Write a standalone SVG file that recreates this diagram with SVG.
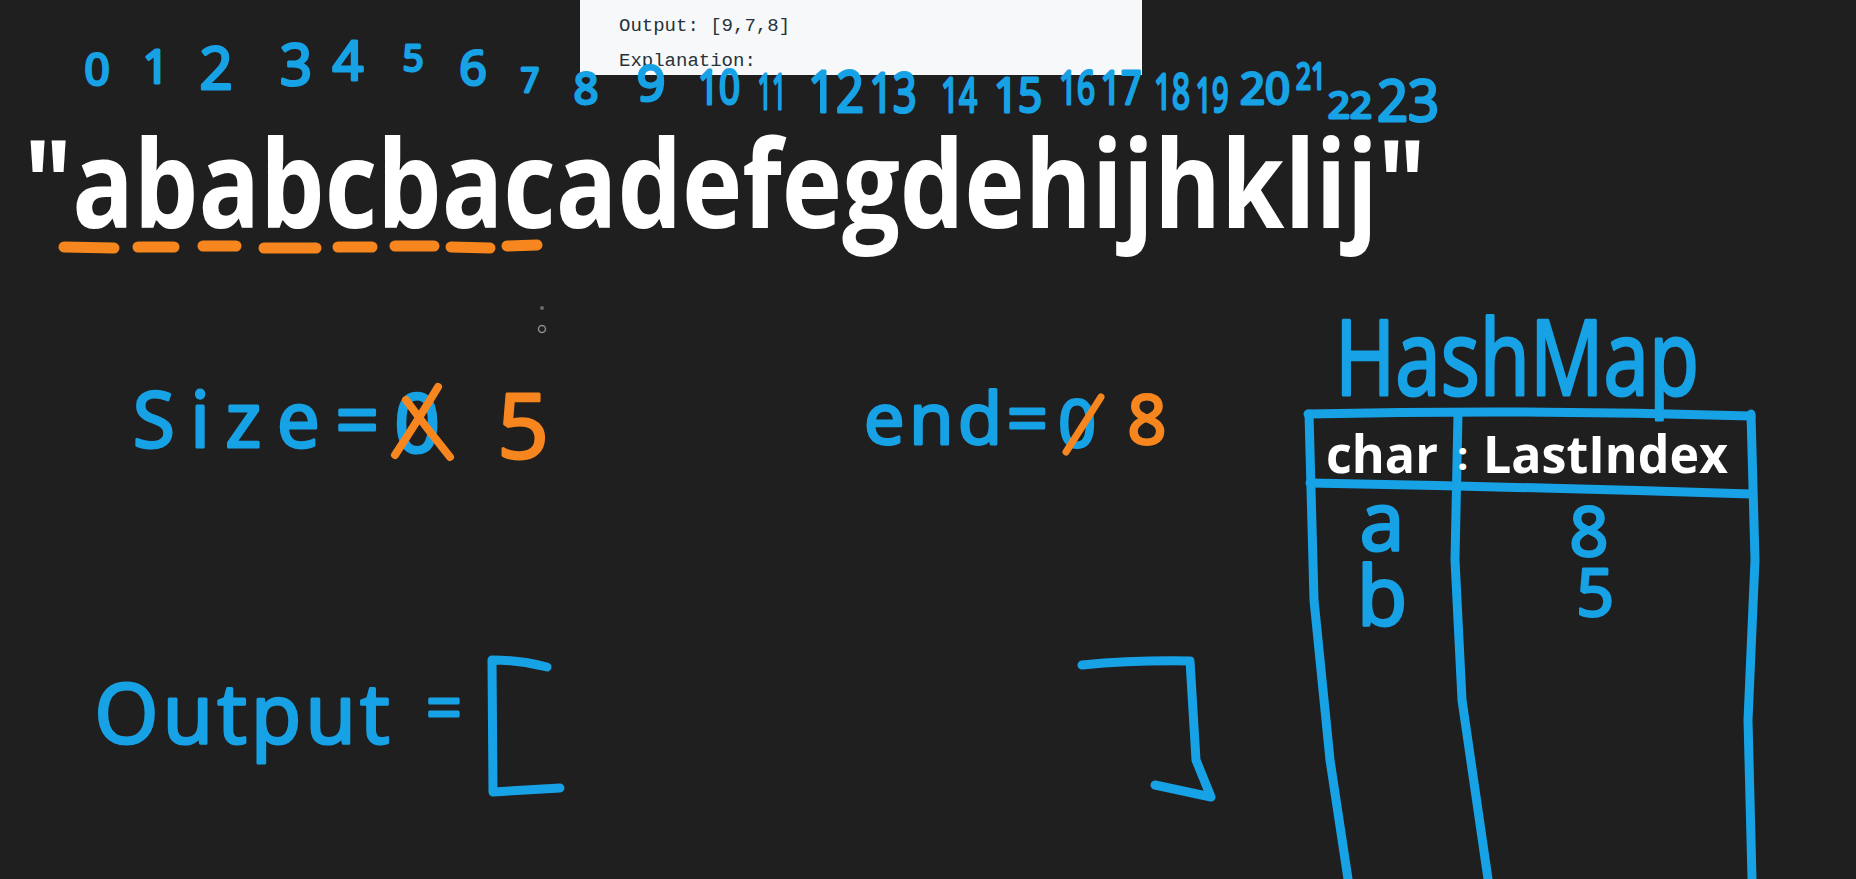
<svg xmlns="http://www.w3.org/2000/svg" width="1856" height="879" viewBox="0 0 1856 879">
<style>
.hw{font-family:"Open Sans","DejaVu Sans",sans-serif;fill:#17a2e6;stroke:#17a2e6;stroke-width:3;stroke-linejoin:round;text-anchor:middle}
.hwo{font-family:"Open Sans","DejaVu Sans",sans-serif;fill:#f7861f;stroke:#f7861f;stroke-width:3;stroke-linejoin:round;text-anchor:middle}
.bl{fill:none;stroke:#17a2e6;stroke-width:9;stroke-linecap:round;stroke-linejoin:round}
.or{fill:none;stroke:#f7861f;stroke-linecap:round;stroke-linejoin:round}
.big{font-family:"Open Sans","Noto Sans",sans-serif;font-weight:700;fill:#ffffff}
.mono{font-family:"Liberation Mono","DejaVu Sans Mono",monospace;font-size:19px;fill:#263238}
</style>
<rect width="1856" height="879" fill="#1f1f1f"/>

<g id="problem-panel">
<rect x="580" y="0" width="562" height="75" fill="#f7f8fa"/>
<text class="mono" x="619" y="31">Output: [9,7,8]</text>
<text class="mono" x="619" y="66">Explanation:</text>
</g>

<g id="indices">
<text class="hw" x="97" y="85" font-size="44">0</text>
<text class="hw" x="156" y="83" font-size="46">1</text>
<text class="hw" x="216" y="89" font-size="58">2</text>
<text class="hw" x="296" y="85" font-size="56">3</text>
<text class="hw" x="348" y="80" font-size="54">4</text>
<text class="hw" x="413" y="71" font-size="36">5</text>
<text class="hw" x="473" y="85" font-size="48">6</text>
<text class="hw" x="530" y="92" font-size="32">7</text>
<text class="hw" x="586" y="104" font-size="43">8</text>
<text class="hw" x="651" y="101" font-size="50">9</text>
<text class="hw" x="719" y="104" font-size="48" textLength="42" lengthAdjust="spacingAndGlyphs">10</text>
<text class="hw" x="772" y="109" font-size="50" textLength="29" lengthAdjust="spacingAndGlyphs">11</text>
<text class="hw" x="836" y="112" font-size="56" textLength="56" lengthAdjust="spacingAndGlyphs">12</text>
<text class="hw" x="893" y="112" font-size="54" textLength="47" lengthAdjust="spacingAndGlyphs">13</text>
<text class="hw" x="959" y="112" font-size="48" textLength="36" lengthAdjust="spacingAndGlyphs">14</text>
<text class="hw" x="1018" y="112" font-size="48" textLength="48" lengthAdjust="spacingAndGlyphs">15</text>
<text class="hw" x="1077" y="104" font-size="46" textLength="36" lengthAdjust="spacingAndGlyphs">16</text>
<text class="hw" x="1121" y="104" font-size="46" textLength="41" lengthAdjust="spacingAndGlyphs">17</text>
<text class="hw" x="1172" y="109" font-size="50" textLength="36" lengthAdjust="spacingAndGlyphs">18</text>
<text class="hw" x="1212" y="112" font-size="48" textLength="33" lengthAdjust="spacingAndGlyphs">19</text>
<text class="hw" x="1265" y="104" font-size="43" textLength="50" lengthAdjust="spacingAndGlyphs">20</text>
<text class="hw" x="1311" y="89" font-size="37" textLength="30" lengthAdjust="spacingAndGlyphs">21</text>
<text class="hw" x="1350" y="118" font-size="36" textLength="44" lengthAdjust="spacingAndGlyphs">22</text>
<text class="hw" x="1408" y="121" font-size="56" textLength="62" lengthAdjust="spacingAndGlyphs">23</text>
</g>

<g id="input-string">
<text class="big" x="24" y="228" font-size="122" textLength="1402" lengthAdjust="spacingAndGlyphs">"ababcbacadefegdehijhklij"</text>
<g id="underline" class="or" stroke-width="11">
<line x1="64" y1="247" x2="114" y2="248"/>
<line x1="138" y1="247" x2="174" y2="247"/>
<line x1="203" y1="246" x2="236" y2="246"/>
<line x1="264" y1="248" x2="316" y2="248"/>
<line x1="338" y1="247" x2="372" y2="247"/>
<line x1="395" y1="246" x2="434" y2="246"/>
<line x1="451" y1="247" x2="490" y2="248"/>
<line x1="507" y1="246" x2="537" y2="245"/>
</g>
<circle cx="542" cy="308" r="2" fill="#6a6a6a"/>
<circle cx="542" cy="329" r="3.5" fill="none" stroke="#8a8a8a" stroke-width="1.5"/>
</g>

<g id="size">
<text class="hw" x="256" y="447" font-size="76" textLength="246" lengthAdjust="spacing">Size=</text>
<text class="hw" x="417" y="452" font-size="80">0</text>
<path class="or" stroke-width="8" d="M438,387 Q418,420 395,455"/>
<path class="or" stroke-width="8" d="M406,400 Q428,430 450,457"/>
<text class="hwo" x="523" y="458" font-size="90">5</text>
</g>

<g id="end">
<text class="hw" x="956" y="444" font-size="72" textLength="184" lengthAdjust="spacing">end=</text>
<text class="hw" x="1077" y="447" font-size="66">0</text>
<path class="or" stroke-width="7" d="M1101,397 L1066,452"/>
<text class="hwo" x="1147" y="444" font-size="68">8</text>
</g>

<g id="output">
<text class="hw" x="242" y="743" font-size="82" textLength="295" lengthAdjust="spacing">Output</text>
<text class="hw" x="444" y="730" font-size="62">=</text>
<path class="bl" stroke-width="10" d="M547,667 Q520,660 492,660 L493,792 L560,788"/>
<path class="bl" stroke-width="10" d="M1082,665 Q1135,660 1190,661 L1196,760 L1211,797 L1155,785"/>
</g>

<g id="hashmap">
<text class="hw" x="1517" y="395" font-size="105" textLength="364" lengthAdjust="spacingAndGlyphs">HashMap</text>
<g class="bl">
<path d="M1308,414 Q1530,409 1751,416"/>
<path d="M1310,483 Q1530,487 1751,494"/>
<path d="M1309,414 L1314,600 L1330,760 L1348,879"/>
<path d="M1458,414 L1455,560 L1462,700 L1488,879"/>
<path d="M1751,414 L1755,560 L1748,720 L1752,879"/>
</g>
<text class="big" x="1457" y="470" font-size="40">:</text>
<text class="big" x="1326" y="473" font-size="52" textLength="112" lengthAdjust="spacingAndGlyphs">char</text>
<text class="big" x="1483" y="473" font-size="52" textLength="245" lengthAdjust="spacingAndGlyphs">LastIndex</text>
<text class="hw" x="1382" y="550" font-size="80">a</text>
<text class="hw" x="1382" y="625" font-size="82">b</text>
<text class="hw" x="1589" y="556" font-size="68">8</text>
<text class="hw" x="1595" y="616" font-size="66">5</text>
</g>
</svg>
